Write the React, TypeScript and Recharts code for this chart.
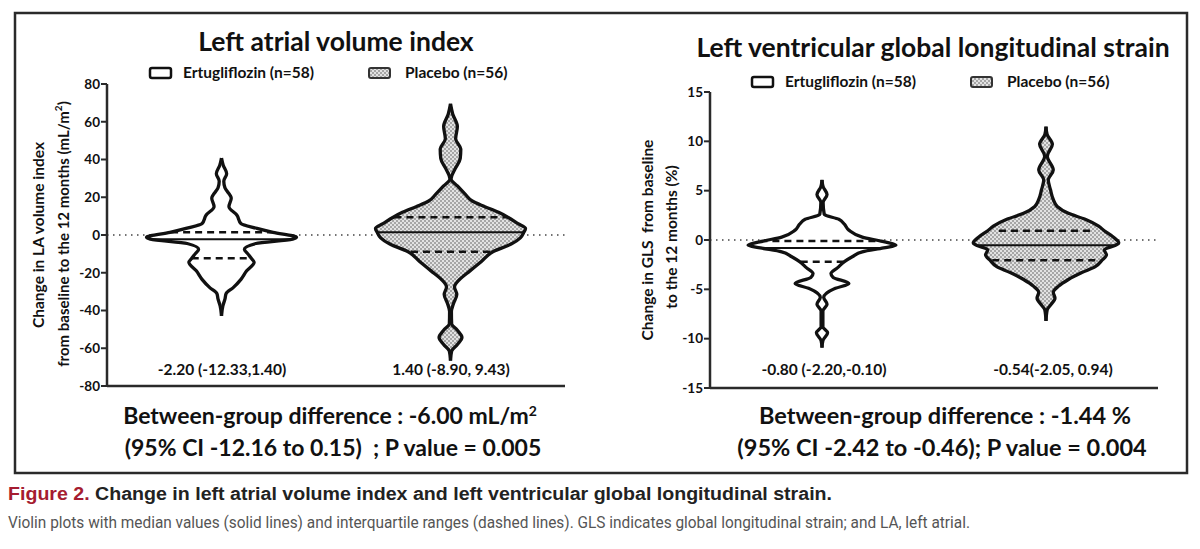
import React from "react";
import { Area, ComposedChart, ReferenceLine, XAxis, YAxis } from "recharts";

// Left atrial volume index (mL/m²): level on the y axis, half width of the violin (x units)
const laErtuY = [40.8, 37, 32.5, 28.5, 25, 19.5, 15, 10.5, 6, 3.5, 1.4, -1.2, -2.2, -4.5, -7.5, -10, -12.33, -14.5, -19, -23.5, -28, -31, -34, -37.5, -42.8];
const laErtuW = [0, 0.015, 0.045, 0.02, 0.03, 0.085, 0.065, 0.135, 0.17, 0.31, 0.45, 0.655, 0.62, 0.3, 0.2, 0.23, 0.26, 0.285, 0.22, 0.17, 0.1, 0.04, 0.03, 0.012, 0];
const laPlacY = [69.5, 64, 57.5, 51, 45.5, 40.5, 35, 29.7, 26, 21.5, 18, 15, 12, 9.43, 6, 3.5, 1.4, -1.5, -4.8, -8.9, -14, -19, -23.5, -27.5, -31.5, -36.5, -40.5, -47, -50.5, -54.3, -58, -61.5, -66.6];
const laPlacW = [0, 0.02, 0.06, 0.045, 0.09, 0.085, 0.04, 0.005, 0.06, 0.13, 0.19, 0.3, 0.42, 0.5, 0.59, 0.655, 0.64, 0.61, 0.53, 0.37, 0.27, 0.17, 0.08, 0.035, 0.055, 0.025, 0.008, 0.01, 0.06, 0.1, 0.06, 0.01, 0];

// Left ventricular GLS (%)
const glsErtuY = [6.1, 5.4, 4.6, 3.8, 2.6, 2.1, 1.6, 1.0, 0.3, -0.1, -0.54, -0.8, -1.2, -1.7, -2.2, -2.8, -3.4, -3.8, -4.4, -4.9, -5.4, -5.8, -6.5, -7.2, -8.8, -9.4, -10.2, -10.9];
const glsErtuW = [0, 0.01, 0.045, 0.01, 0.02, 0.15, 0.2, 0.24, 0.36, 0.52, 0.66, 0.55, 0.36, 0.27, 0.2, 0.14, 0.08, 0.1, 0.24, 0.12, 0.04, 0.015, 0.045, 0.008, 0.008, 0.05, 0.008, 0];
const glsPlacY = [11.5, 10.7, 9.7, 8.5, 7.1, 6.1, 5.1, 4.1, 3.4, 2.7, 2.1, 1.4, 0.94, 0.3, -0.3, -0.54, -1.0, -1.5, -2.05, -2.7, -3.3, -4.0, -4.7, -5.3, -5.9, -6.6, -7.1, -8.2];
const glsPlacW = [0, 0.01, 0.057, 0.012, 0.065, 0.02, 0.04, 0.065, 0.1, 0.2, 0.35, 0.47, 0.52, 0.6, 0.65, 0.62, 0.52, 0.54, 0.5, 0.44, 0.32, 0.2, 0.11, 0.065, 0.08, 0.04, 0.01, 0];

// quartile 3, median, quartile 1 and the half width of each line
const laErtuStats = [1.4, -2.2, -12.33];
const laErtuStatW = [0.44, 0.63, 0.26];
const laPlacStats = [9.43, 1.4, -8.9];
const laPlacStatW = [0.49, 0.635, 0.345];
const glsErtuStats = [-0.1, -0.8, -2.2];
const glsErtuStatW = [0.55, 0.54, 0.19];
const glsPlacStats = [0.94, -0.54, -2.05];
const glsPlacStatW = [0.42, 0.61, 0.48];

const laTicks = [80, 60, 40, 20, 0, -20, -40, -60, -80];
const glsTicks = [15, 10, 5, 0, -5, -10, -15];

const groupCenters = [1, 3];
const legendLabels = ["Ertugliflozin (n=58)", "Placebo (n=56)"];
const laSummary = ["-2.20 (-12.33,1.40)", "1.40 (-8.90, 9.43)"];
const glsSummary = ["-0.80 (-2.20,-0.10)", "-0.54(-2.05, 0.94)"];

const INK = "#111";
const AXIS = "#2a2a2a";
const FONT = "Lato, 'Open Sans', sans-serif";

interface Group {
	center: number;
	ys: number[];
	ws: number[];
	stats: number[];
	statW: number[];
	fill: string;
}

interface Margin {
	top: number;
	right: number;
	bottom: number;
	left: number;
}

interface ViolinChartProps {
	width: number;
	height: number;
	margin: Margin;
	domain: [number, number];
	ticks: number[];
	group: Group;
	showAxes: boolean;
}

// one violin per chart; charts of a panel sit on top of each other with the same axes
function ViolinChart({ width, height, margin, domain, ticks, group, showAxes }: ViolinChartProps) {
	const rows = group.ys.map((y, i) => ({
		y,
		band: [group.center - group.ws[i], group.center + group.ws[i]],
	}));
	return (
		<div style={{ position: "absolute", left: 0, top: 0 }}>
			<ComposedChart width={width} height={height} layout="vertical" data={rows} margin={margin}>
				<XAxis
					type="number"
					domain={[0, 4]}
					allowDataOverflow
					tick={false}
					tickLine={false}
					axisLine={showAxes ? { stroke: AXIS, strokeWidth: 2.5 } : false}
					height={2}
				/>
				<YAxis
					type="number"
					dataKey="y"
					domain={domain}
					ticks={ticks}
					interval={0}
					reversed
					allowDataOverflow
					width={60}
					tickSize={6}
					tickMargin={1}
					axisLine={showAxes ? { stroke: AXIS, strokeWidth: 2.5 } : false}
					tickLine={showAxes ? { stroke: AXIS, strokeWidth: 2 } : false}
					tick={showAxes ? { fill: INK, fontSize: 13.5, fontWeight: 700, fontFamily: FONT } : false}
				/>
				{showAxes && (
					<ReferenceLine y={0} stroke="#444" strokeWidth={1.6} strokeDasharray="1.5 4.5" zIndex={-10} />
				)}
				<Area
					dataKey="band"
					type="monotone"
					fill={group.fill}
					fillOpacity={1}
					stroke={INK}
					strokeWidth={3.3}
					strokeLinejoin="round"
					dot={false}
					activeDot={false}
					isAnimationActive={false}
				/>
				{group.stats.map((v, i) => (
					<ReferenceLine
						key={i}
						segment={[
							{ x: group.center - group.statW[i], y: v },
							{ x: group.center + group.statW[i], y: v },
						]}
						stroke={INK}
						strokeWidth={i === 1 ? 2 : 2.5}
						strokeDasharray={i === 1 ? undefined : "7 5"}
						zIndex={1000}
					/>
				))}
			</ComposedChart>
		</div>
	);
}

function ViolinPanel(props: { left: number; margin: Margin; domain: [number, number]; ticks: number[]; groups: Group[] }) {
	return (
		<div style={{ position: "absolute", left: props.left, top: 0, width: 600, height: 400 }}>
			{props.groups.map((g, i) => (
				<ViolinChart
					key={i}
					width={600}
					height={400}
					margin={props.margin}
					domain={props.domain}
					ticks={props.ticks}
					group={g}
					showAxes={i === 0}
				/>
			))}
		</div>
	);
}

function Legend({ x, y }: { x: number; y: number }) {
	return (
		<g>
			<rect x={x} y={y - 5} width={21} height={10} rx={2} fill="#fff" stroke={INK} strokeWidth={2.5} />
			<text x={x + 33} y={y + 5} fontSize={15.5} fontWeight={700} fontFamily={FONT} fill={INK}>
				{legendLabels[0]}
			</text>
			<rect x={x + 219} y={y - 5} width={21} height={10} rx={2} fill="url(#checker)" stroke="#333" strokeWidth={2} />
			<text x={x + 255} y={y + 5} fontSize={15.5} fontWeight={700} fontFamily={FONT} fill={INK}>
				{legendLabels[1]}
			</text>
		</g>
	);
}

export default function App() {
	const laGroups: Group[] = [
		{ center: groupCenters[0], ys: laErtuY, ws: laErtuW, stats: laErtuStats, statW: laErtuStatW, fill: "#ffffff" },
		{ center: groupCenters[1], ys: laPlacY, ws: laPlacW, stats: laPlacStats, statW: laPlacStatW, fill: "url(#checker)" },
	];
	const glsGroups: Group[] = [
		{ center: groupCenters[0], ys: glsErtuY, ws: glsErtuW, stats: glsErtuStats, statW: glsErtuStatW, fill: "#ffffff" },
		{ center: groupCenters[1], ys: glsPlacY, ws: glsPlacW, stats: glsPlacStats, statW: glsPlacStatW, fill: "url(#checker)" },
	];

	const bold = { fontFamily: FONT, fontWeight: 700, fill: INK } as const;

	return (
		<div style={{ position: "absolute", left: 0, top: 0, width: 1200, height: 549, background: "#fff", overflow: "hidden" }}>
			<svg width={0} height={0} style={{ position: "absolute" }}>
				<defs>
					<pattern id="checker" width={4} height={4} patternUnits="userSpaceOnUse">
						<rect width={4} height={4} fill="#e2e2e2" />
						<rect width={2} height={2} fill="#a6a6a6" />
						<rect x={2} y={2} width={2} height={2} fill="#a6a6a6" />
					</pattern>
				</defs>
			</svg>

			<ViolinPanel
				left={0}
				margin={{ top: 84, right: 35, bottom: 12, left: 47 }}
				domain={[-80, 80]}
				ticks={laTicks}
				groups={laGroups}
			/>
			<ViolinPanel
				left={600}
				margin={{ top: 92, right: 42, bottom: 10, left: 50 }}
				domain={[-15, 15]}
				ticks={glsTicks}
				groups={glsGroups}
			/>

			<svg width={1200} height={549} style={{ position: "absolute", left: 0, top: 0, pointerEvents: "none" }}>
				<rect x={15} y={13} width={1172} height={460} fill="none" stroke={AXIS} strokeWidth={2.5} />

				<text x={336} y={51} textAnchor="middle" fontSize={26.5} {...bold}>
					Left atrial volume index
				</text>
				<text x={933} y={57} textAnchor="middle" fontSize={26.5} {...bold}>
					Left ventricular global longitudinal strain
				</text>

				<Legend x={150} y={73} />
				<Legend x={752} y={82} />

				<g transform="rotate(-90 38 235)">
					<text x={38} y={235} textAnchor="middle" dominantBaseline="central" fontSize={15.5} {...bold}>
						Change in LA volume index
					</text>
				</g>
				<g transform="rotate(-90 63 234)">
					<text x={63} y={234} textAnchor="middle" dominantBaseline="central" fontSize={15} {...bold}>
						from baseline to the 12 months (mL/m<tspan dy={-5} fontSize={10}>2</tspan>
						<tspan dy={5}>)</tspan>
					</text>
				</g>
				<g transform="rotate(-90 647 240)">
					<text x={647} y={240} textAnchor="middle" dominantBaseline="central" fontSize={15.5} {...bold} xmlSpace="preserve">
						Change in GLS  from baseline
					</text>
				</g>
				<g transform="rotate(-90 671 237)">
					<text x={671} y={237} textAnchor="middle" dominantBaseline="central" fontSize={15.5} {...bold}>
						to the 12 months (%)
					</text>
				</g>

				<text x={222} y={375} textAnchor="middle" fontSize={15.5} {...bold}>{laSummary[0]}</text>
				<text x={451} y={375} textAnchor="middle" fontSize={15.5} {...bold}>{laSummary[1]}</text>
				<text x={824} y={375} textAnchor="middle" fontSize={15.5} {...bold}>{glsSummary[0]}</text>
				<text x={1053} y={375} textAnchor="middle" fontSize={15.5} {...bold}>{glsSummary[1]}</text>

				<text x={330} y={424} textAnchor="middle" fontSize={23} {...bold}>
					Between-group difference : -6.00 mL/m<tspan dy={-8} fontSize={14}>2</tspan>
				</text>
				<text x={333} y={456} textAnchor="middle" fontSize={23} {...bold} xmlSpace="preserve">
					(95% CI -12.16 to 0.15)  ; P value = 0.005
				</text>
				<text x={945} y={424} textAnchor="middle" fontSize={23.5} {...bold}>
					Between-group difference : -1.44 %
				</text>
				<text x={942} y={456} textAnchor="middle" fontSize={23.5} {...bold}>
					(95% CI -2.42 to -0.46); P value = 0.004
				</text>

				<text x={8} y={500} fontSize={18} fontWeight={700} fontFamily="'Liberation Sans', Arial, sans-serif" textLength={824} lengthAdjust="spacingAndGlyphs">
					<tspan fill="#a51c30">Figure 2.</tspan>
					<tspan fill="#222"> Change in left atrial volume index and left ventricular global longitudinal strain.</tspan>
				</text>
				<text x={8} y={528} fontSize={16} fontFamily="Roboto, sans-serif" fill="#555" textLength={962} lengthAdjust="spacingAndGlyphs">
					Violin plots with median values (solid lines) and interquartile ranges (dashed lines). GLS indicates global longitudinal strain; and LA, left atrial.
				</text>
			</svg>
		</div>
	);
}
